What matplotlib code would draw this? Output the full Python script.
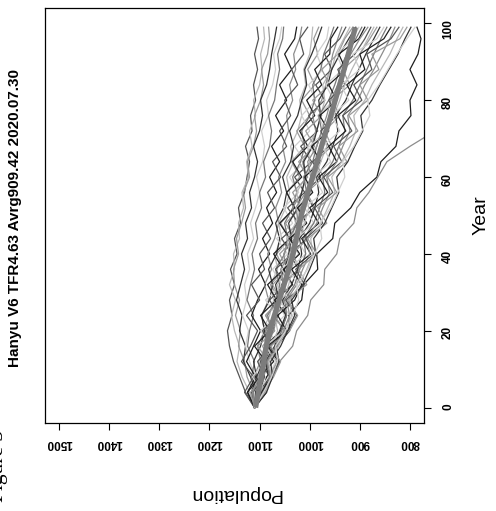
import numpy as np
import matplotlib
matplotlib.use("Agg")
from matplotlib import pyplot as plt

plt.rcParams['font.family'] = ['Liberation Sans', 'DejaVu Sans']

# simulation years (sampled every 4 years, last one 99)
years = [0, 4, 8, 12, 16, 20, 24, 28, 32, 36, 40, 44, 48, 52, 56, 60,
         64, 68, 72, 76, 80, 84, 88, 92, 96, 99]

# population runs (one list per run)
runs = [
    [1110,1094,1086,1062,1066,1040,1042,1016,1012,984,986,954,950,918,900,866,858,828,822,798,800,786,800,784,778,786],
    [1110,1096,1074,1060,1034,1026,1004,998,972,970,946,940,912,906,882,864,846,800,750,730,720,712,700,690,684,676],
    [1110,1128,1140,1152,1160,1164,1155,1160,1150,1158,1145,1150,1138,1142,1130,1125,1120,1128,1115,1118,1108,1112,1104,1110,1102,1105],
    [1110,1120,1135,1145,1140,1150,1156,1148,1160,1150,1152,1140,1142,1132,1135,1122,1126,1115,1120,1108,1112,1100,1095,1098,1090,1092],
    [1110,1112,1125,1130,1142,1138,1148,1140,1150,1152,1142,1146,1136,1128,1132,1120,1124,1112,1106,1110,1098,1092,1096,1084,1080,1082],
    [1110,1108,1118,1132,1128,1140,1135,1146,1138,1130,1136,1124,1128,1116,1120,1110,1104,1112,1100,1094,1098,1086,1080,1076,1070,1066],
    [1110,1115,1108,1120,1128,1122,1134,1126,1130,1120,1124,1112,1118,1108,1100,1106,1094,1090,1096,1082,1086,1074,1068,1072,1060,1056],
    [1110,1104,1116,1110,1124,1120,1112,1125,1118,1110,1115,1104,1108,1096,1100,1088,1092,1080,1076,1082,1070,1066,1060,1064,1054,1052],
    [1110,1124,1108,1126,1112,1098,1116,1104,1088,1102,1080,1094,1074,1086,1066,1080,1060,1076,1052,1068,1046,1060,1036,1050,1030,1026],
    [1110,1100,1112,1098,1104,1090,1096,1082,1090,1076,1084,1070,1062,1068,1056,1062,1048,1054,1042,1046,1034,1040,1028,1032,1020,1016],
    [1110,1130,1112,1136,1118,1104,1126,1100,1116,1090,1100,1078,1094,1070,1084,1058,1074,1046,1060,1038,1050,1024,1036,1012,1020,1004],
    [1110,1104,1096,1102,1088,1094,1080,1072,1078,1064,1070,1056,1062,1048,1040,1046,1032,1038,1024,1016,1020,1008,1012,1000,996,994],
    [1110,1088,1104,1080,1094,1070,1088,1060,1078,1052,1066,1040,1058,1030,1046,1020,1036,1010,1026,1000,1016,990,1004,984,992,982],
    [1110,1116,1106,1112,1098,1090,1096,1080,1074,1082,1066,1060,1068,1052,1046,1054,1038,1032,1040,1024,1016,1006,1010,996,984,976],
    [1110,1096,1114,1090,1076,1098,1066,1088,1056,1074,1044,1066,1034,1052,1022,1040,1010,1030,1000,1016,988,1002,974,986,966,962],
    [1110,1100,1090,1098,1082,1076,1084,1066,1060,1068,1050,1044,1050,1034,1026,1034,1018,1010,1016,1000,990,994,978,972,960,952],
    [1110,1124,1100,1088,1110,1080,1098,1066,1084,1052,1072,1040,1060,1030,1046,1016,1034,1004,1020,990,1006,976,990,960,958,944],
    [1110,1098,1092,1082,1088,1072,1064,1070,1054,1046,1052,1036,1028,1034,1016,1008,1014,996,988,994,976,968,960,954,944,936],
    [1110,1114,1090,1104,1078,1094,1062,1080,1050,1068,1036,1056,1022,1044,1010,1030,996,1018,984,1002,970,988,956,970,940,928],
    [1110,1094,1100,1086,1076,1082,1066,1058,1064,1046,1040,1046,1028,1020,1026,1008,1000,1004,986,978,970,974,956,948,932,920],
    [1110,1118,1094,1082,1104,1070,1088,1058,1074,1044,1060,1030,1048,1018,1034,1004,1022,990,1008,976,994,960,976,944,930,914],
    [1110,1100,1106,1092,1082,1088,1070,1062,1068,1050,1042,1036,1042,1024,1016,1008,1012,994,986,978,982,964,956,940,922,908],
    [1110,1090,1076,1098,1064,1080,1050,1068,1036,1056,1022,1044,1010,1028,996,1014,982,1000,968,984,952,968,934,946,914,902],
    [1110,1104,1092,1098,1082,1074,1064,1070,1052,1044,1036,1042,1024,1016,1006,1012,994,986,976,982,962,950,940,926,908,896],
    [1110,1086,1100,1072,1088,1058,1046,1070,1034,1052,1020,1040,1006,1024,994,1010,978,996,962,980,946,962,928,942,902,890],
    [1110,1114,1100,1090,1082,1088,1070,1060,1052,1058,1040,1030,1022,1028,1008,998,1004,986,976,966,958,944,934,918,900,884],
    [1110,1094,1080,1098,1064,1050,1072,1036,1056,1022,1040,1006,1026,992,1010,978,994,962,978,946,962,930,944,910,890,878],
    [1110,1096,1102,1086,1076,1064,1070,1052,1042,1034,1040,1020,1010,1002,1008,988,978,966,972,952,940,930,916,900,884,872],
    [1110,1098,1080,1066,1088,1052,1070,1036,1054,1020,1034,1004,1022,990,1006,972,990,956,970,940,956,920,934,900,880,866],
    [1110,1094,1082,1088,1070,1060,1048,1054,1036,1024,1016,1020,1000,990,982,986,966,954,944,948,928,916,902,888,872,860],
    [1110,1104,1082,1068,1088,1052,1040,1060,1024,1042,1008,1026,992,1010,974,992,958,974,940,956,922,938,900,914,866,852],
    [1110,1092,1080,1086,1068,1056,1046,1050,1030,1020,1008,1012,992,980,970,974,954,942,930,934,914,900,886,872,858,846],
    [1110,1096,1076,1062,1084,1046,1064,1030,1016,1036,998,1016,982,1000,964,982,946,962,928,944,908,926,890,900,852,838],
    [1110,1090,1078,1084,1064,1052,1040,1046,1026,1014,1000,1006,986,974,960,966,946,934,920,924,904,890,872,856,840,830],
    [1110,1094,1074,1060,1080,1042,1026,1048,1010,1028,992,1008,974,990,954,972,936,952,916,934,896,912,876,886,838,822],
    [1110,1088,1076,1082,1062,1048,1036,1040,1020,1006,994,998,978,964,950,956,936,920,908,912,890,876,858,840,826,814],
    [1110,1092,1072,1058,1078,1040,1024,1044,1006,1022,986,1004,966,984,946,964,926,942,904,922,884,900,862,876,820,806],
    [1110,1086,1074,1078,1058,1044,1030,1036,1014,1000,988,992,970,956,942,946,924,910,894,898,876,860,842,824,810,798],
    [1110,1092,1076,1064,1068,1048,1034,1022,1026,1004,990,976,980,958,944,930,934,912,896,880,884,862,844,826,806,790],
]

# average curve
mean_years = [0, 5, 10, 15, 20, 25, 30, 35, 40, 45, 50, 55, 60, 65, 70, 75, 80, 85, 90, 95, 99]
mean_pop = [1108, 1101, 1094, 1088, 1080, 1068, 1056, 1044, 1033, 1025, 1017,
            1006, 994, 983, 972, 960, 949, 938, 927, 917, 909]

pop_ticks = [800, 900, 1000, 1100, 1200, 1300, 1400, 1500]
year_ticks = [0, 20, 40, 60, 80, 100]

title = "Hanyu V6 TFR4.63 Avrg909.42 2020.07.30"

greys = ['#1e1e1e', '#8c8c8c', '#555555', '#b8b8b8', '#9a9a9a',
         '#333333', '#cfcfcf', '#777777']

W, H = 496, 511
fig = plt.figure(figsize=(W / 100, H / 100), dpi=100)
ax = fig.add_axes([45 / W, (H - 423) / H, (424 - 45) / W, (423 - 8) / H])

# page is an R plot turned on its side: population runs along x, year along y
for i, r in enumerate(runs):
    ax.plot(r, years, color=greys[i % len(greys)], lw=0.9)
ax.plot(mean_pop, mean_years, color='#7c7c7c', lw=3.8, solid_capstyle='butt')

ax.set_xlim(1528, 772)
ax.set_ylim(-4, 104)
ax.set_xticks(pop_ticks)
ax.set_yticks(year_ticks)
ax.yaxis.tick_right()
ax.tick_params(axis='x', length=5, width=0.8, labelsize=8.5, labelrotation=180, pad=5)
ax.tick_params(axis='y', length=5, width=0.8, labelsize=8.5, labelrotation=90, pad=8)
for lab in ax.get_xticklabels() + ax.get_yticklabels():
    lab.set_fontweight('bold')
for s in ax.spines.values():
    s.set_linewidth(0.9)

fig.text(15 / W, (H - 218) / H, title, rotation=90, ha='center', va='center',
         fontsize=11, fontweight='bold')
fig.text(235 / W, (H - 493) / H, "Population", rotation=180, ha='center',
         va='center', fontsize=14)
fig.text(481 / W, (H - 215) / H, "Year", rotation=90, ha='center',
         va='center', fontsize=14)
fig.text(8 / W, (H - 466) / H, "Figure 3", rotation=90, ha='right', va='center',
         fontsize=15.5, family=['Liberation Serif', 'DejaVu Serif'])

fig.savefig("out.png", dpi=100)
